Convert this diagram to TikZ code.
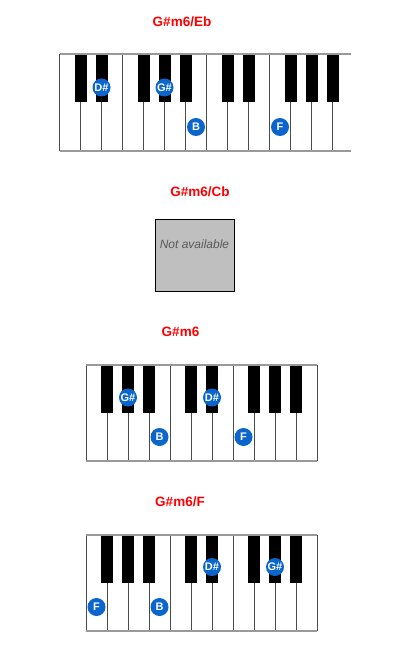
\documentclass[tikz,border=0pt]{standalone}
\usepackage{fontspec}
\setmainfont{Liberation Sans}
\usetikzlibrary{positioning}
\definecolor{noteblue}{RGB}{10,102,204}

\begin{document}
\begin{tikzpicture}[
        x=1pt, y=-1pt,
        title/.style={text=red, font=\bfseries\fontsize{13.5}{16}\selectfont},
        keyline/.style={draw=black!70, line width=1pt},
        rim/.style={draw=black!40, line width=2pt},
        blackkey/.style={fill=black},
        note/.style={circle, fill=noteblue, text=white, inner sep=0pt, minimum size=18pt, font=\bfseries\fontsize{11}{12}\selectfont},
        missing/.style={draw=black, fill=gray!50, line width=1pt}
    ]
    \useasboundingbox (0,0) rectangle (400,660);

    % Keyboard 1 - G#m6/Eb (C to B, two octaves)
    \node[title] (T1) at (182,22) {G\#m6/Eb};
    \foreach \i in {0,...,13}
        \draw[keyline] (59.5+21*\i,54.5) -- (59.5+21*\i,151);
    \foreach \i in {1,2,4,5,6,8,9,11,12,13}
        \fill[blackkey] (53.5+21*\i,54.5) rectangle (65.5+21*\i,102.5);
    \draw[rim] (59.5,54.5) -- (351,54.5);
    \draw[rim] (59.5,151) -- (351,151);
    \node[note] (K1Ds) at (101.5,87.5) {D\#};
    \node[note] (K1Gs) at (164.5,87.5) {G\#};
    \node[note] (K1B)  at (196,127)    {B};
    \node[note] (K1F)  at (280,127)    {F};

    % Keyboard 2 - G#m6/Cb
    \node[title] (T2) at (200,192) {G\#m6/Cb};
    \draw[missing] (155,219) rectangle (234,291);
    \node[text=black!65, font=\itshape\fontsize{12}{14}\selectfont] (NA) at (194.5,244) {Not available};

    % Keyboard 3 - G#m6 (F to B)
    \node[title] (T3) at (180.5,332) {G\#m6};
    \foreach \i in {0,...,11}
        \draw[keyline] (86+21*\i,364.5) -- (86+21*\i,461);
    \foreach \i in {1,2,3,5,6,8,9,10}
        \fill[blackkey] (80+21*\i,364.5) rectangle (92+21*\i,412.5);
    \draw[rim] (86,364.5) -- (317,364.5);
    \draw[rim] (86,461) -- (317,461);
    \node[note] (K3Gs) at (128,397.5) {G\#};
    \node[note] (K3Ds) at (212,397.5) {D\#};
    \node[note] (K3B)  at (159.5,437) {B};
    \node[note] (K3F)  at (243.5,437) {F};

    % Keyboard 4 - G#m6/F (F to B)
    \node[title] (T4) at (180,502) {G\#m6/F};
    \foreach \i in {0,...,11}
        \draw[keyline] (86+21*\i,535) -- (86+21*\i,631);
    \foreach \i in {1,2,3,5,6,8,9,10}
        \fill[blackkey] (80+21*\i,535) rectangle (92+21*\i,583);
    \draw[rim] (86,535) -- (317,535);
    \draw[rim] (86,631) -- (317,631);
    \node[note] (K4F)  at (96.5,607)  {F};
    \node[note] (K4B)  at (159.5,607) {B};
    \node[note] (K4Ds) at (212,567)   {D\#};
    \node[note] (K4Gs) at (275,567)   {G\#};

\end{tikzpicture}
\end{document}
